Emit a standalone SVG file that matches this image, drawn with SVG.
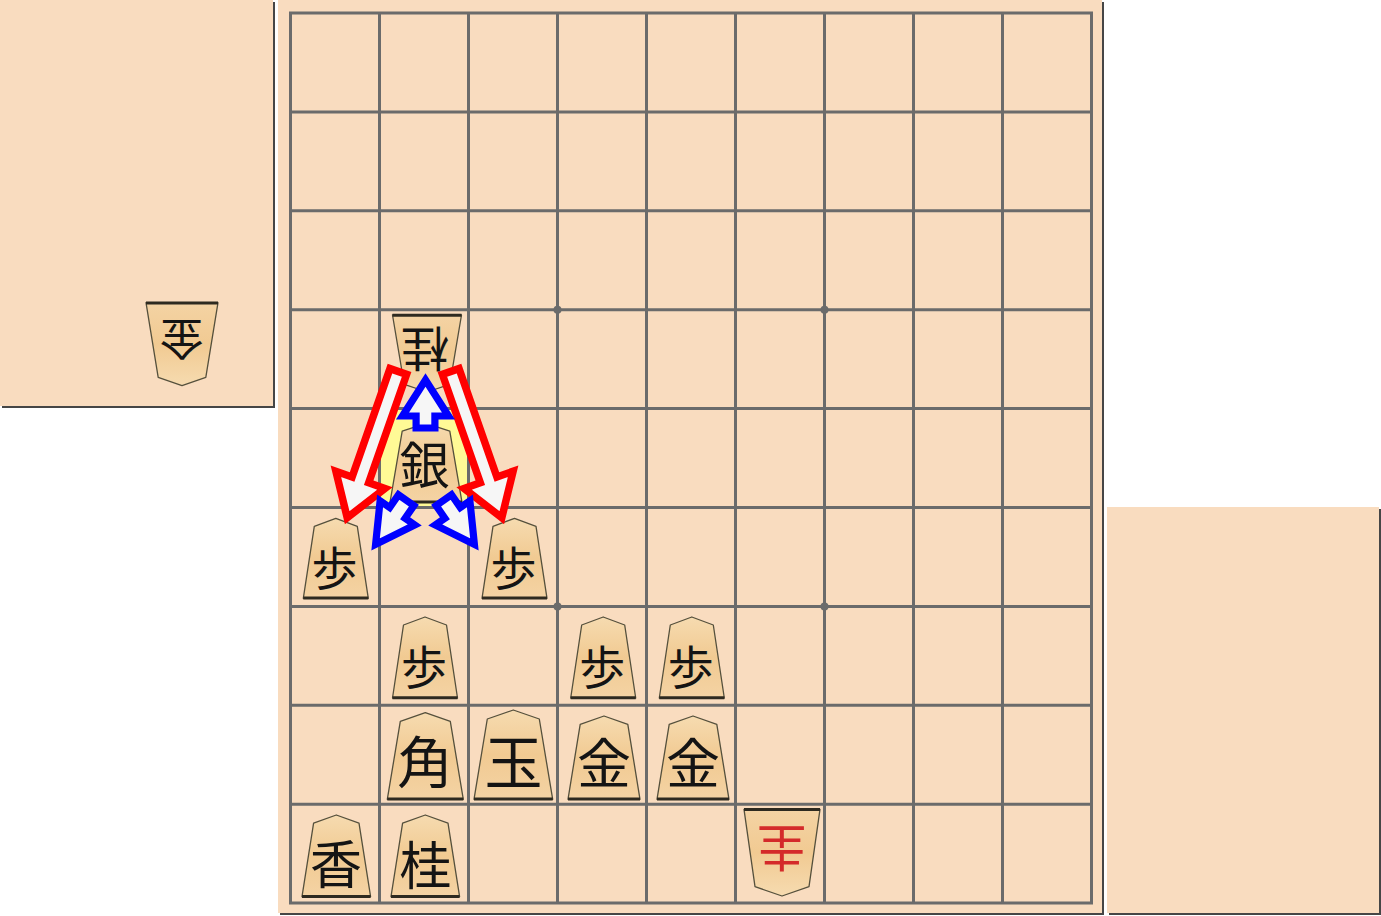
<svg xmlns="http://www.w3.org/2000/svg" width="1381" height="916" viewBox="0 0 1381 916">
<defs>
<linearGradient id="wood" x1="0" y1="0" x2="0" y2="1">
<stop offset="0" stop-color="#f6dbb0"/>
<stop offset="0.5" stop-color="#f1ca92"/>
<stop offset="1" stop-color="#f4d3a4"/>
</linearGradient>
<linearGradient id="woodInv" x1="0" y1="1" x2="0" y2="0">
<stop offset="0" stop-color="#f6dbb0"/>
<stop offset="0.5" stop-color="#f1ca92"/>
<stop offset="1" stop-color="#f4d3a4"/>
</linearGradient>
</defs>
<style>
.shadow{fill:#464646}
.stand{fill:#f9dcbf}
.grid{fill:none;stroke:#6b6b6b;stroke-width:3;stroke-linecap:square}
.star{fill:#6b6b6b}
.hl{fill:#fffa96}
.piece{fill:url(#wood);stroke:#55503c;stroke-width:1.3;stroke-linejoin:round}
.pinv{fill:url(#woodInv);stroke:#55503c;stroke-width:1.3;stroke-linejoin:round}
.edge{stroke:#2e2a20;stroke-width:3}
.glyph{font-family:"Noto Sans CJK JP","Noto Sans CJK SC",sans-serif;fill:#141414;text-anchor:middle;dominant-baseline:central}
.red{fill:#d42a2a}
.ra{fill:#f6f6f6;stroke:#ff0000;stroke-width:7.5;stroke-linejoin:miter;stroke-miterlimit:10}
.ba{fill:#f6f6f6;stroke:#0000ff;stroke-width:7.2;stroke-linejoin:miter;stroke-miterlimit:10}
</style>
<rect width="1381" height="916" fill="#ffffff"/>
<g id="stand-gote">
<rect class="shadow" x="2" y="2" width="273" height="406"/>
<rect class="stand" x="0" y="0" width="273" height="406"/>
</g>
<g id="stand-sente">
<rect class="shadow" x="1109" y="509" width="272" height="406"/>
<rect class="stand" x="1107" y="507" width="272" height="406"/>
</g>
<g id="board">
<rect class="shadow" x="280" y="2" width="824" height="913"/>
<rect class="stand" x="278" y="0" width="824" height="913"/>
<rect class="hl" x="379.5" y="408.6" width="89" height="98.9"/>
<path class="grid" d="M290.5,13H1091.5V903.1H290.5Z M379.5,13V903.1 M468.5,13V903.1 M557.5,13V903.1 M646.5,13V903.1 M735.5,13V903.1 M824.5,13V903.1 M913.5,13V903.1 M1002.5,13V903.1 M290.5,111.9H1091.5 M290.5,210.8H1091.5 M290.5,309.7H1091.5 M290.5,408.6H1091.5 M290.5,507.5H1091.5 M290.5,606.4H1091.5 M290.5,705.3H1091.5 M290.5,804.2H1091.5"/>
<circle class="star" cx="557.5" cy="309.7" r="4"/>
<circle class="star" cx="824.5" cy="309.7" r="4"/>
<circle class="star" cx="557.5" cy="606.4" r="4"/>
<circle class="star" cx="824.5" cy="606.4" r="4"/>
</g>
<g id="hand-gote-kin">
<polygon class="pinv" points="146,302.7 218,302.7 205.8,377.4 182,385.7 158.2,377.4"/>
<line class="edge" x1="146" y1="303" x2="218" y2="303"/>
<text class="glyph" x="181.7" y="341" font-size="44" transform="rotate(180 181.7 341)">金</text>
</g>
<g id="p-gote-kei-24">
<polygon class="pinv" points="392.5,315 461.5,315 449.8,384.3 427,392 404.2,384.3"/>
<line class="edge" x1="392.5" y1="315.3" x2="461.5" y2="315.3"/>
<text class="glyph" x="425" y="352" font-size="48" transform="rotate(180 425 352)">桂</text>
</g>
<g id="p-gin-25">
<polygon class="piece" points="426,423.3 449.8,431.2 462,502.3 390,502.3 402.2,431.2"/>
<line class="edge" x1="390" y1="502" x2="462" y2="502"/>
<text class="glyph" x="424.5" y="462" font-size="50">銀</text>
</g>
<g id="p-fu-16">
<polygon class="piece" points="335.8,518.3 357.3,526.3 368.3,598.3 303.3,598.3 314.3,526.3"/>
<line class="edge" x1="303.3" y1="598" x2="368.3" y2="598"/>
<text class="glyph" x="334.5" y="564.5" font-size="46">歩</text>
</g>
<g id="p-fu-36">
<polygon class="piece" points="514.5,518.3 536,526.3 547,598.3 482,598.3 493,526.3"/>
<line class="edge" x1="482" y1="598" x2="547" y2="598"/>
<text class="glyph" x="513.5" y="564.5" font-size="46">歩</text>
</g>
<g id="p-fu-27">
<polygon class="piece" points="425,617 446.5,625 457.5,698 392.5,698 403.5,625"/>
<line class="edge" x1="392.5" y1="697.7" x2="457.5" y2="697.7"/>
<text class="glyph" x="424" y="664" font-size="46">歩</text>
</g>
<g id="p-fu-47">
<polygon class="piece" points="603.2,617 624.7,625 635.7,698 570.7,698 581.7,625"/>
<line class="edge" x1="570.7" y1="697.7" x2="635.7" y2="697.7"/>
<text class="glyph" x="602.2" y="664" font-size="46">歩</text>
</g>
<g id="p-fu-57">
<polygon class="piece" points="691.8,617 713.3,625 724.3,698 659.3,698 670.3,625"/>
<line class="edge" x1="659.3" y1="697.7" x2="724.3" y2="697.7"/>
<text class="glyph" x="690.8" y="664" font-size="46">歩</text>
</g>
<g id="p-kaku-28">
<polygon class="piece" points="425.3,712.7 450.3,721.4 463.3,799.3 387.3,799.3 400.3,721.4"/>
<line class="edge" x1="387.3" y1="799" x2="463.3" y2="799"/>
<text class="glyph" x="425" y="758.5" font-size="56">角</text>
</g>
<g id="p-gyoku-38">
<polygon class="piece" points="513.3,710 539.3,719 552.7,799.3 474,799.3 487.3,719"/>
<line class="edge" x1="474" y1="799" x2="552.7" y2="799"/>
<text class="glyph" x="513.5" y="759" font-size="58">玉</text>
</g>
<g id="p-kin-48">
<polygon class="piece" points="604,716 627.8,724.3 640,799.3 568,799.3 580.2,724.3"/>
<line class="edge" x1="568" y1="799" x2="640" y2="799"/>
<text class="glyph" x="604" y="760" font-size="54">金</text>
</g>
<g id="p-kin-58">
<polygon class="piece" points="693,716 716.8,724.3 729,799.3 657,799.3 669.2,724.3"/>
<line class="edge" x1="657" y1="799" x2="729" y2="799"/>
<text class="glyph" x="693" y="760" font-size="54">金</text>
</g>
<g id="p-kyo-19">
<polygon class="piece" points="336.3,815 359,823.2 370.6,896.7 302,896.7 313.6,823.2"/>
<line class="edge" x1="302" y1="896.4" x2="370.6" y2="896.4"/>
<text class="glyph" x="336" y="861" font-size="52">香</text>
</g>
<g id="p-kei-29">
<polygon class="piece" points="425.3,815 448,823.2 459.6,896.7 391,896.7 402.6,823.2"/>
<line class="edge" x1="391" y1="896.4" x2="459.6" y2="896.4"/>
<text class="glyph" x="425.5" y="862" font-size="52">桂</text>
</g>
<g id="p-gote-narikei-69">
<polygon class="pinv" points="744,809.3 820,809.3 809,886.7 782,896 755,886.7"/>
<line class="edge" x1="744" y1="809.6" x2="820" y2="809.6"/>
<text class="glyph red" x="781.7" y="851" font-size="50" transform="rotate(180 781.7 851)">圭</text>
</g>
<g id="connectors">
<polygon class="ra" points="390,368.6 352.1,477 335.9,471.3 347.2,517.7 384.9,488.5 368.7,482.8 406.6,374.4"/>
<polygon class="ra" points="459,368.6 496.9,477 513.1,471.3 501.8,517.7 464.1,488.5 480.3,482.8 442.4,374.4"/>
<polygon class="ba" points="416.1,428 416.1,416 402.5,416 425.5,380 448.5,416 434.9,416 434.9,428"/>
<polygon class="ba" points="398.5,494.8 389.7,507.5 380.1,500.9 375.6,544.4 414.7,524.9 405.1,518.3 413.9,505.6"/>
<polygon class="ba" points="451.5,494.8 460.3,507.5 469.9,500.9 474.4,544.4 435.3,524.9 444.9,518.3 436.1,505.6"/>
</g>
</svg>
